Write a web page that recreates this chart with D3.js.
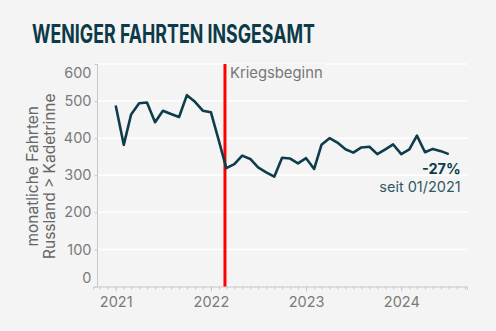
<!DOCTYPE html>
<html><head><meta charset="utf-8">
<script src="https://cdn.jsdelivr.net/npm/d3@7"></script>
<style>
html,body{margin:0;padding:0;background:#f4f4f4;}
svg{display:block;}
text{font-family:Inter,"Noto Sans",sans-serif;}
</style></head>
<body><svg id="c" width="496" height="331"></svg>
<script>
const months = ["2021-01","2021-02","2021-03","2021-04","2021-05","2021-06","2021-07","2021-08","2021-09","2021-10","2021-11","2021-12",
"2022-01","2022-02","2022-03","2022-04","2022-05","2022-06","2022-07","2022-08","2022-09","2022-10","2022-11","2022-12",
"2023-01","2023-02","2023-03","2023-04","2023-05","2023-06","2023-07","2023-08","2023-09","2023-10","2023-11","2023-12",
"2024-01","2024-02","2024-03","2024-04","2024-05","2024-06","2024-07"];
const trips = [488,382,464,494,496,443,474,465,457,516,498,474,
470,392,319,330,353,344,321,308,296,347,345,332,
346,317,382,400,388,370,361,375,377,357,370,383,
357,370,407,362,371,365,357];
const yTicks = [0,100,200,300,400,500,600];
const xTickYears = [2021,2022,2023,2024];
const warDate = "2022-02-24";
const title = "WENIGER FAHRTEN INSGESAMT";
const yTitle = ["monatliche Fahrten","Russland > Kadetrinne"];
const annotation = ["-27%","seit 01/2021"];

const svg = d3.select("#c");
const parse = d3.timeParse("%Y-%m");
const data = months.map((m,i)=>({date:parse(m), v:trips[i]}));

const x = d3.scaleTime().domain([new Date(2020,9,6), new Date(2024,8,9)]).range([93,467]);
const y = d3.scaleLinear().domain([0,600]).range([286.5,64]);
const axisX0 = 97.5;
const FONT = "Inter,'Noto Sans',sans-serif";

svg.append("rect").attr("width",496).attr("height",331).attr("fill","#f4f4f4");

// title
svg.append("text").attr("x",32).attr("y",43).text(title)
  .attr("font-family","'Liberation Sans Narrow','DejaVu Sans Condensed',sans-serif")
  .attr("font-weight",700).attr("font-size",25).attr("fill","#0c3a48")
  .attr("textLength",283).attr("lengthAdjust","spacingAndGlyphs");

// gridlines
svg.append("g").selectAll("line").data(yTicks.filter(d=>d>0)).join("line")
  .attr("x1",axisX0).attr("x2",467).attr("y1",d=>y(d)).attr("y2",d=>y(d))
  .attr("stroke","#ffffff").attr("stroke-width",1.5);

// y axis
const yAxis = svg.append("g").attr("transform",`translate(${axisX0},0)`)
  .call(d3.axisLeft(y).tickValues(yTicks).tickSize(3).tickPadding(3));
yAxis.select(".domain").attr("stroke","#c8c8c8").attr("d",`M0,${y(600)}V${y(0)}`);
yAxis.selectAll(".tick line").attr("stroke","#c8c8c8");
yAxis.selectAll(".tick text").attr("fill","#7a7a7a").attr("font-size",14.5)
  .attr("font-family",FONT)
  .attr("dy",d=> d===600 ? "0.95em" : d===0 ? "-0.3em" : "0.32em");

// x axis
const minorTicks = d3.timeMonth.range(new Date(2020,9,1), new Date(2024,8,2)).filter(d=>x(d)>=93);
const xg = svg.append("g").attr("transform",`translate(0,${y(0)})`);
xg.append("g").call(d3.axisBottom(x).tickValues(minorTicks).tickSize(3).tickFormat(""))
  .call(g=>{g.select(".domain").attr("stroke","#c8c8c8"); g.selectAll(".tick line").attr("stroke","#c8c8c8");});
const xMaj = xg.append("g").call(d3.axisBottom(x).tickValues(xTickYears.map(yy=>new Date(yy,0,1))).tickSize(5).tickPadding(5).tickFormat(d3.timeFormat("%Y")));
xMaj.select(".domain").remove();
xMaj.selectAll(".tick line").attr("stroke","#c8c8c8");
xMaj.selectAll(".tick text").attr("fill","#7a7a7a").attr("font-size",14.5).attr("font-family",FONT);

// y title
const yt = svg.append("text").attr("transform",`translate(0,${(y(0)+y(600))/2+1}) rotate(-90)`)
  .attr("text-anchor","middle").attr("fill","#666").attr("font-size",15.5);
yt.selectAll("tspan").data(yTitle).join("tspan").attr("x",0).attr("y",(d,i)=>38+i*16.5).text(d=>d);

// war line
const wd = d3.timeParse("%Y-%m-%d")(warDate);
svg.append("line").attr("x1",x(wd)).attr("x2",x(wd)).attr("y1",y(600)).attr("y2",y(0))
  .attr("stroke","#ff0000").attr("stroke-width",3);
const lbl = svg.append("g");
const lt = lbl.append("text").attr("x",x(wd)+5).attr("y",y(600)+13.5).text("Kriegsbeginn")
  .attr("fill","#777").attr("font-size",14.8);
const bb = lt.node().getBBox();
lbl.insert("rect","text").attr("x",bb.x-2).attr("y",bb.y).attr("width",bb.width+4).attr("height",bb.height)
  .attr("fill","#f4f4f4");

// line
svg.append("path").datum(data)
  .attr("d",d3.line().x(d=>x(d.date)).y(d=>y(d.v)))
  .attr("fill","none").attr("stroke","#0d3d4b").attr("stroke-width",2.6).attr("stroke-linejoin","round");

// annotation
const last = data[data.length-1];
svg.append("text").attr("x",x(last.date)+12).attr("y",y(last.v)+20).attr("text-anchor","end")
  .attr("font-weight",700).attr("font-size",14.5).attr("fill","#0d3d4b").text(annotation[0]);
svg.append("text").attr("x",x(last.date)+12).attr("y",y(last.v)+38).attr("text-anchor","end")
  .attr("font-size",14.5).attr("fill","#2f5965").text(annotation[1]);
</script></body></html>
